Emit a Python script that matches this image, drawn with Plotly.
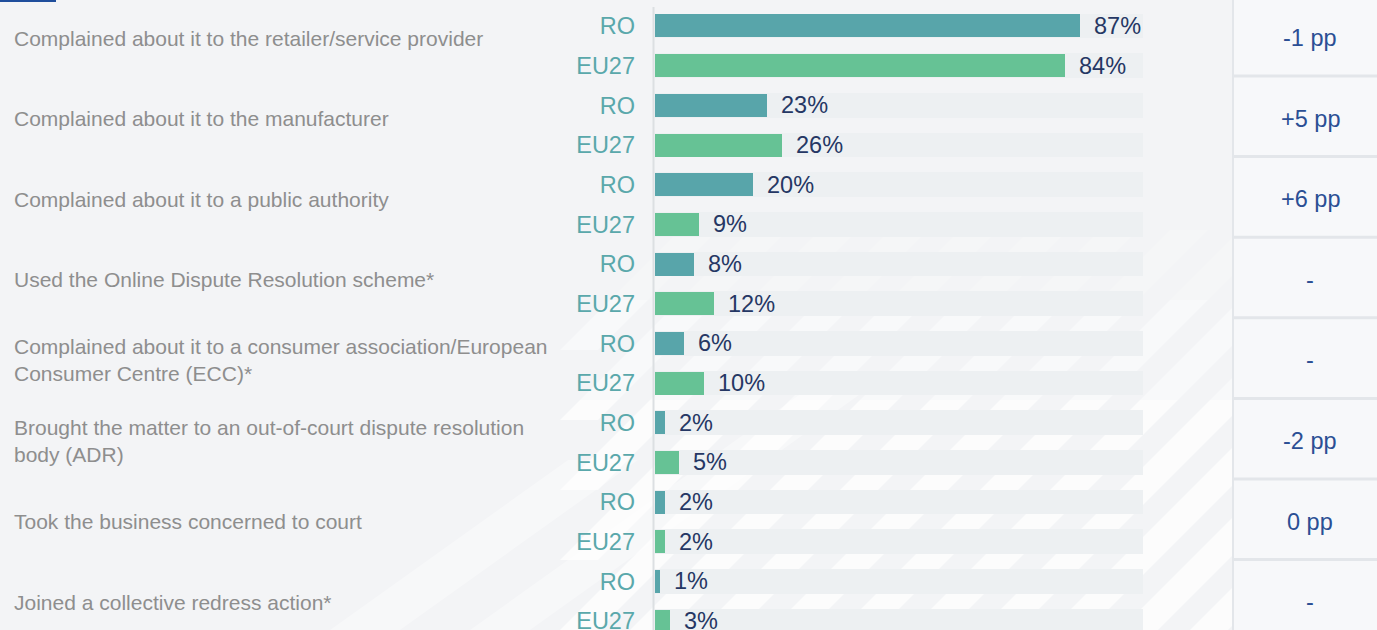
import plotly.graph_objects as go

##########
# Inputs #
##########

CATEGORIES = [
    "Complained about it to the retailer/service provider",
    "Complained about it to the manufacturer",
    "Complained about it to a public authority",
    "Used the Online Dispute Resolution scheme*",
    "Complained about it to a consumer association/European<br>Consumer Centre (ECC)*",
    "Brought the matter to an out-of-court dispute resolution<br>body (ADR)",
    "Took the business concerned to court",
    "Joined a collective redress action*",
]
RO_VALUES = [87, 23, 20, 8, 6, 2, 2, 1]
EU27_VALUES = [84, 26, 9, 12, 10, 5, 2, 3]
PP_CHANGE = ["-1 pp", "+5 pp", "+6 pp", "-", "-", "-2 pp", "0 pp", "-"]
SERIES_NAMES = ["RO", "EU27"]
TRACK_MAX = 100

######################
# Maps and constants #
######################

W, H = 1377, 630
BG_COLOUR = "#f3f4f6"
TRACK_COLOUR = "#edf0f2"
RO_COLOUR = "#58a5aa"
EU_COLOUR = "#66c295"
TICK_COLOUR = "#5aa8ab"
VALUE_COLOUR = "#253764"
LABEL_COLOUR = "#8e8e8e"
PP_COLOUR = "#2b4f94"
PANEL_COLOUR = "#f7f8fa"
SEPARATOR_COLOUR = "#e3e6ea"
FONT = "Liberation Sans, Arial, sans-serif"

# bar slot positions: RO on even rows, EU27 on odd rows
ro_pos = [2 * i for i in range(len(CATEGORIES))]
eu_pos = [2 * i + 1 for i in range(len(CATEGORIES))]
all_pos = sorted(ro_pos + eu_pos)

figure = go.Figure()

# Background tracks
figure.add_trace(go.Bar(
    x=[TRACK_MAX] * len(all_pos),
    y=all_pos,
    orientation="h",
    width=0.62,
    marker={"color": TRACK_COLOUR, "line": {"width": 0}},
    hoverinfo="skip",
    showlegend=False,
))

for name, values, positions, colour in [
    ("RO", RO_VALUES, ro_pos, RO_COLOUR),
    ("EU27", EU27_VALUES, eu_pos, EU_COLOUR),
]:
    figure.add_trace(go.Bar(
        x=values,
        y=positions,
        orientation="h",
        width=0.58,
        name=name,
        marker={"color": colour, "line": {"width": 0}},
        showlegend=False,
    ))
    for value, position in zip(values, positions):
        figure.add_annotation(
            x=value, y=position, xref="x", yref="y",
            text=f"{value}%", showarrow=False,
            xanchor="left", yanchor="middle", xshift=12,
            font={"size": 23.5, "color": VALUE_COLOUR, "family": FONT},
        )

# dummy trace so the table axis exists
figure.add_trace(go.Scatter(
    x=[None], y=[None], yaxis="y2", showlegend=False, hoverinfo="skip"
))

# Category labels and pp differences on the table grid
for k, (label, pp) in enumerate(zip(CATEGORIES, PP_CHANGE)):
    figure.add_annotation(
        x=12 / W, y=k, xref="paper", yref="y2",
        text=label, showarrow=False, align="left",
        xanchor="left", yanchor="middle",
        font={"size": 21, "color": LABEL_COLOUR, "family": FONT},
    )
    figure.add_annotation(
        x=1310 / W, y=k, xref="paper", yref="y2",
        text=pp, showarrow=False,
        xanchor="center", yanchor="middle",
        font={"size": 23.5, "color": PP_COLOUR, "family": FONT},
    )

##########
# Shapes #
##########

shapes = []

# broad faint bands in the lower left (decorative)
for bx, band, rise in [(330, 70, 170), (470, 60, 250)]:
    dx = rise * 1.4
    path = (
        f"M {bx / W},0 L {(bx + band) / W},0 "
        f"L {(bx + band + dx) / W},{rise / H} L {(bx + dx) / W},{rise / H} Z"
    )
    shapes.append(dict(
        type="path", path=path, xref="paper", yref="paper",
        fillcolor="rgba(255,255,255,0.35)", line={"width": 0}, layer="below",
    ))

# 45 degree stripes showing between the bar tracks, stronger near the bottom
STRIPE_LEFT = 560
for j in range(17):
    bx = 280 + j * 70
    band = 38
    for low, high, alpha in [(0, 230, 0.7), (230, 330, 0.45), (330, 400, 0.2)]:
        low = max(low, STRIPE_LEFT - bx)
        if low >= high:
            continue
        path = (
            f"M {(bx + low) / W},{low / H} L {(bx + band + low) / W},{low / H} "
            f"L {(bx + band + high) / W},{high / H} L {(bx + high) / W},{high / H} Z"
        )
        shapes.append(dict(
            type="path", path=path, xref="paper", yref="paper",
            fillcolor=f"rgba(255,255,255,{alpha})", line={"width": 0}, layer="below",
        ))

# right table panel
shapes.append(dict(
    type="rect", xref="paper", yref="paper",
    x0=1233 / W, x1=1, y0=0, y1=1,
    fillcolor=PANEL_COLOUR, line={"width": 0}, layer="below",
))
shapes.append(dict(
    type="line", xref="paper", yref="paper",
    x0=1233 / W, x1=1233 / W, y0=0, y1=1,
    line={"color": SEPARATOR_COLOUR, "width": 2}, layer="below",
))
for k in range(len(CATEGORIES) - 1):
    shapes.append(dict(
        type="line", xref="paper", yref="y2",
        x0=1233 / W, x1=1, y0=k + 0.4715, y1=k + 0.4715,
        line={"color": SEPARATOR_COLOUR, "width": 3}, layer="below",
    ))

# bar axis line
shapes.append(dict(
    type="line", xref="paper", yref="paper",
    x0=653.5 / W, x1=653.5 / W, y0=0, y1=1 - 7 / H,
    line={"color": "#dcdfe2", "width": 2}, layer="below",
))

# top-left tab underline
shapes.append(dict(
    type="rect", xref="paper", yref="paper",
    x0=0, x1=56 / W, y0=1 - 2 / H, y1=1,
    fillcolor="#1f4e9c", line={"width": 0}, layer="above",
))

###################
# Get plot layout #
###################

figure.update_layout(
    width=W,
    height=H,
    paper_bgcolor=BG_COLOUR,
    plot_bgcolor="rgba(0,0,0,0)",
    margin={"l": 0, "r": 0, "t": 0, "b": 0, "pad": 0, "autoexpand": False},
    barmode="overlay",
    bargap=0,
    shapes=shapes,
    xaxis={
        "domain": [655 / W, 1143 / W],
        "range": [0, TRACK_MAX],
        "visible": False,
        "automargin": False,
        "fixedrange": True,
    },
    yaxis={
        "range": [15.225, -0.655],
        "tickvals": all_pos,
        "ticktext": [SERIES_NAMES[p % 2] for p in all_pos],
        "tickfont": {"size": 23.5, "color": TICK_COLOUR, "family": FONT},
        "ticks": "",
        "ticklabelstandoff": 19,
        "ticklabeloverflow": "allow",
        "automargin": False,
        "showgrid": False,
        "zeroline": False,
        "showline": False,
        "fixedrange": True,
    },
    yaxis2={
        "range": [7.345, -0.4715],
        "overlaying": "y",
        "visible": False,
        "automargin": False,
        "fixedrange": True,
    },
    font={"family": FONT},
)

figure.write_html(
    "out.html",
    config={"displayModeBar": False},
    post_script="document.body.style.margin='0';document.body.style.overflow='hidden';",
)
